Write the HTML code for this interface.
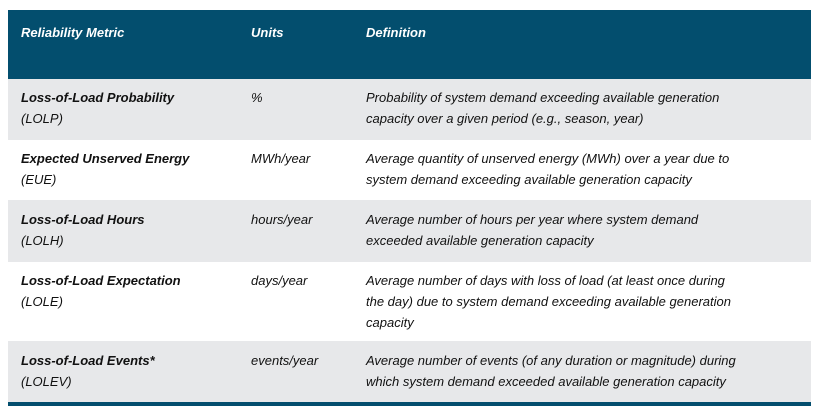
<!DOCTYPE html>
<html><head><meta charset="utf-8"><style>
body{margin:0;width:821px;height:415px;background:#fff;position:relative;overflow:hidden;font-family:"Liberation Sans",sans-serif;font-style:italic;font-size:13px;color:#111;}
.bg{position:absolute;left:8px;width:803px;}
.t{position:absolute;line-height:21px;white-space:nowrap;}
.b{font-weight:bold;}
.h{color:#fff;font-weight:bold;}
</style></head><body>
<div class="bg" style="top:10px;height:69px;background:#034e6e"></div>
<div class="bg" style="top:79px;height:61px;background:#e7e8ea"></div>
<div class="bg" style="top:200px;height:62px;background:#e7e8ea"></div>
<div class="bg" style="top:341px;height:61px;background:#e7e8ea"></div>
<div class="bg" style="top:402px;height:4px;background:#034e6e"></div>

<div class="t h" style="left:21px;top:22px">Reliability Metric</div>
<div class="t h" style="left:251px;top:22px">Units</div>
<div class="t h" style="left:366px;top:22px">Definition</div>

<div class="t" style="left:21px;top:87px"><span class="b">Loss-of-Load Probability</span><br>(LOLP)</div>
<div class="t" style="left:251px;top:87px">%</div>
<div class="t" style="left:366px;top:87px">Probability of system demand exceeding available generation<br>capacity over a given period (e.g., season, year)</div>

<div class="t" style="left:21px;top:148px"><span class="b">Expected Unserved Energy</span><br>(EUE)</div>
<div class="t" style="left:251px;top:148px">MWh/year</div>
<div class="t" style="left:366px;top:148px">Average quantity of unserved energy (MWh) over a year due to<br>system demand exceeding available generation capacity</div>

<div class="t" style="left:21px;top:209px"><span class="b">Loss-of-Load Hours</span><br>(LOLH)</div>
<div class="t" style="left:251px;top:209px">hours/year</div>
<div class="t" style="left:366px;top:209px">Average number of hours per year where system demand<br>exceeded available generation capacity</div>

<div class="t" style="left:21px;top:270px"><span class="b">Loss-of-Load Expectation</span><br>(LOLE)</div>
<div class="t" style="left:251px;top:270px">days/year</div>
<div class="t" style="left:366px;top:270px">Average number of days with loss of load (at least once during<br>the day) due to system demand exceeding available generation<br>capacity</div>

<div class="t" style="left:21px;top:350px"><span class="b">Loss-of-Load Events*</span><br>(LOLEV)</div>
<div class="t" style="left:251px;top:350px">events/year</div>
<div class="t" style="left:366px;top:350px">Average number of events (of any duration or magnitude) during<br>which system demand exceeded available generation capacity</div>
</body></html>
